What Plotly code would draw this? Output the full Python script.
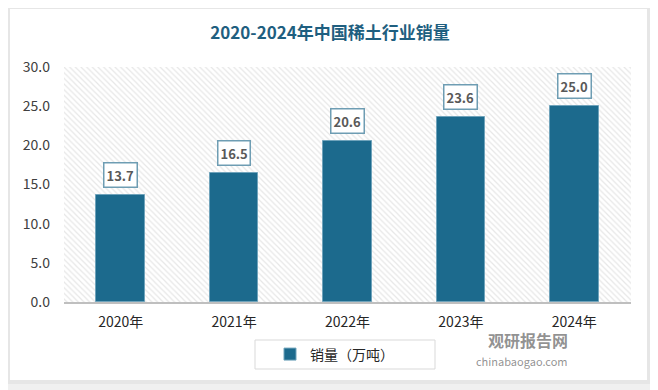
import plotly.graph_objects as go

years = ["2020年", "2021年", "2022年", "2023年", "2024年"]
sales = [13.7, 16.5, 20.6, 23.6, 25.0]
y_max = 30
series_name = "销量（万吨）"
title_text = "2020-2024年中国稀土行业销量"

FONT = "Noto Sans CJK SC, Noto Sans, sans-serif"
BAR = "#1c6a8d"

OFF = 8  # page body margin
W, H = 658 - OFF, 390 - OFF
# plot area in screen pixels
PX0, PX1, PY0, PY1 = 64, 631, 67, 302
L, R = PX0 - OFF, W - (PX1 - OFF)
T, B = PY0 - OFF, H - (PY1 - OFF)
pw, ph = PX1 - PX0, PY1 - PY0

def px_x(px):
    return (px - PX0) / pw

def px_y(py):
    return (PY1 - py) / ph

fig = go.Figure()

# hatched plot-area background
fig.add_trace(go.Bar(
    x=years, y=[y_max] * len(years), width=1.0,
    marker=dict(color="white", line=dict(width=0),
                pattern=dict(shape="\\", fgcolor="#cfcfcf", bgcolor="white",
                             size=4, solidity=0.3)),
    hoverinfo="skip", showlegend=False,
))

fig.add_trace(go.Bar(
    x=years, y=sales, width=0.43, name=series_name,
    marker=dict(color=BAR, line=dict(color="#6fa3bb", width=1)),
))

for x, v in zip(years, sales):
    fig.add_annotation(
        x=x, y=v, text=f"<b>{v:.1f}</b>", showarrow=False,
        yanchor="bottom", yshift=7,
        font=dict(family=FONT, size=13, color="#595959"),
        bgcolor="white", bordercolor="#6e9db3", borderwidth=1.5, borderpad=2,
    )

# watermark
fig.add_annotation(xref="paper", yref="paper", x=px_x(570), y=px_y(354),
                   text="<b>观研报告网</b>", showarrow=False,
                   font=dict(family=FONT, size=16, color="rgba(110,110,110,0.75)"))
fig.add_annotation(xref="paper", yref="paper", x=px_x(570), y=px_y(371),
                   text="chinabaogao.com", showarrow=False,
                   font=dict(family=FONT, size=11, color="rgba(110,110,110,0.75)"))

# card and shadow
fig.add_shape(type="rect", xref="paper", yref="paper", layer="below",
              x0=px_x(6), x1=px_x(651), y0=px_y(384), y1=px_y(5),
              fillcolor="#e6e6e6", line=dict(width=0))
fig.add_shape(type="rect", xref="paper", yref="paper", layer="below",
              x0=px_x(10), x1=px_x(647), y0=px_y(380), y1=px_y(9),
              fillcolor="white", line=dict(width=0))
# legend frame
fig.add_shape(type="rect", xref="paper", yref="paper", layer="below",
              x0=px_x(255), x1=px_x(435), y0=px_y(369), y1=px_y(340),
              fillcolor="white", line=dict(color="#d9d9d9", width=1))

fig.update_layout(
    width=W, height=H,
    margin=dict(l=L, r=R, t=T, b=B),
    paper_bgcolor="#f0f0f0", plot_bgcolor="rgba(0,0,0,0)",
    barmode="overlay", bargap=0,
    title=dict(text=f"<b>{title_text}</b>", x=(330 - OFF) / W, xanchor="center",
               y=1 - (33 - OFF) / H, yanchor="middle", yref="container",
               font=dict(family=FONT, size=17, color="#1f5f80")),
    font=dict(family=FONT),
    xaxis=dict(showline=True, linecolor="#bfbfbf", linewidth=1.5,
               ticks="", ticklabelstandoff=6,
               tickfont=dict(family=FONT, size=14, color="#262626"),
               showgrid=False, zeroline=False),
    yaxis=dict(range=[0, y_max], dtick=5, tickformat=".1f",
               showgrid=False, zeroline=False, showline=False, ticks="",
               ticklabelstandoff=13,
               tickfont=dict(family=FONT, size=14, color="#404040")),
    legend=dict(orientation="h", x=px_x(270), xanchor="left",
                y=px_y(354.5), yanchor="middle",
                borderwidth=0, bgcolor="rgba(0,0,0,0)",
                font=dict(family=FONT, size=14, color="#262626")),
    showlegend=True,
)

fig.write_html("out.html")
